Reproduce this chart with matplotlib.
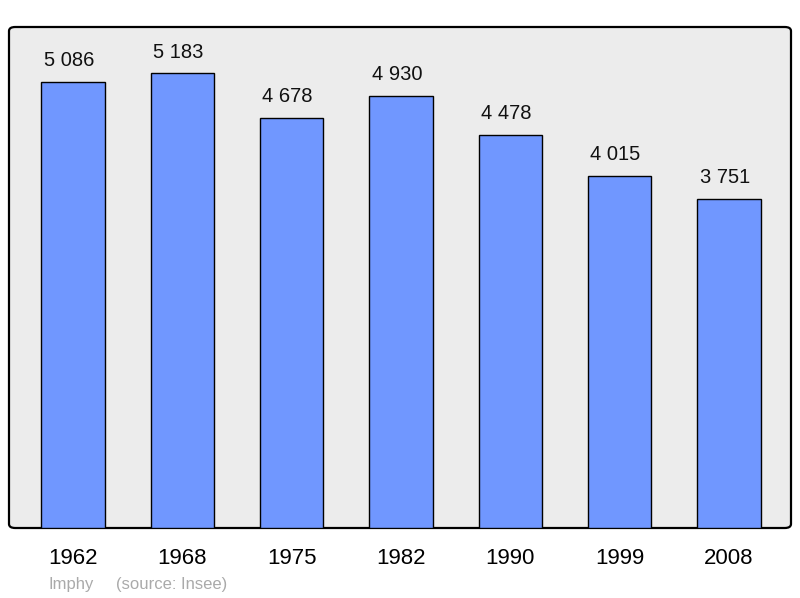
import matplotlib.pyplot as plt
from matplotlib.patches import FancyBboxPatch

years = ["1962", "1968", "1975", "1982", "1990", "1999", "2008"]
population = [5086, 5183, 4678, 4930, 4478, 4015, 3751]
labels = ["5 086", "5 183", "4 678", "4 930", "4 478", "4 015", "3 751"]

plt.rcParams['font.family'] = ['Liberation Sans', 'DejaVu Sans']

fig = plt.figure(figsize=(8, 5.98), dpi=100)
ax = fig.add_axes([9 / 800, 1 - 528 / 598, 782 / 800, 501 / 598])
ax.set_facecolor("none")

# rounded frame behind the bars
frame = FancyBboxPatch((0, 0), 1, 1, boxstyle="round,pad=0,rounding_size=0.008",
                       transform=ax.transAxes, facecolor="#ececec",
                       edgecolor="black", linewidth=1.6, zorder=0, clip_on=False)
ax.add_patch(frame)

x = range(len(years))
ax.bar(x, population, width=0.58, color="#7097ff", edgecolor="black",
       linewidth=1.0, zorder=2)
for i, v in enumerate(population):
    ax.annotate(labels[i], (i, v), xytext=(-3, 8.5), textcoords="offset points",
                ha="center", va="bottom", fontsize=14.5, color="#111111")

ax.set_xlim(-0.585, 6.567)
ax.set_ylim(0, 5712)
ax.set_xticks(list(x))
ax.set_xticklabels(years, fontsize=16)
ax.set_yticks([])
ax.tick_params(axis="x", length=0, pad=14.5)
for s in ax.spines.values():
    s.set_visible(False)

fig.text(49 / 800, 1 - 584.5 / 598, "Imphy", fontsize=12, color="#aaaaaa",
         va="center", ha="left")
fig.text(116 / 800, 1 - 584.5 / 598, "(source: Insee)", fontsize=12,
         color="#aaaaaa", va="center", ha="left")

fig.savefig("out.png", dpi=100)
